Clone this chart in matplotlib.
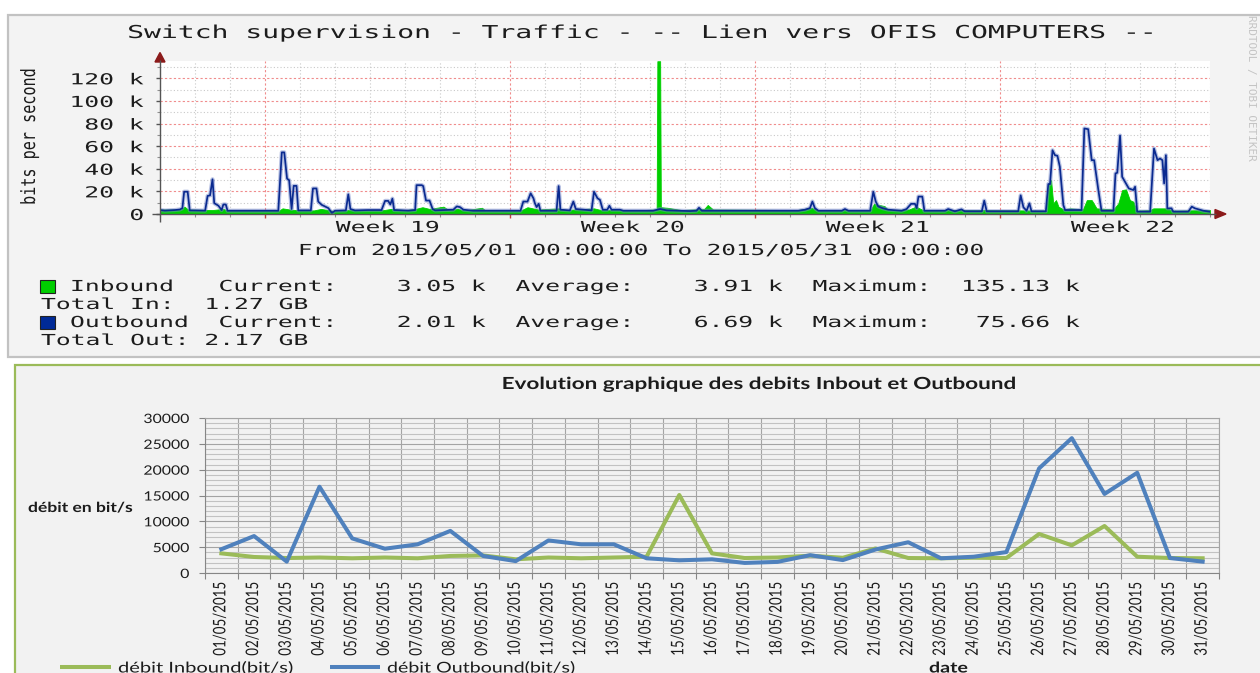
import numpy as np
import matplotlib
matplotlib.use("Agg")
import matplotlib.pyplot as plt
from matplotlib.patheffects import AbstractPathEffect
from matplotlib.transforms import Affine2D
from matplotlib.patches import Rectangle, Polygon
from matplotlib.ticker import FixedLocator, MultipleLocator

# ---------------------------------------------------------------- data
# RRD graph: time in days since 2015/05/01 00:00, values in kbit/s
rrd_title = "Switch supervision - Traffic - -- Lien vers OFIS COMPUTERS --"
outbound_trace = [
    (0.00, 3.5), (0.14, 3.0), (0.43, 3.5), (0.57, 4.0), (0.64, 5.2), (0.69, 19.7), (0.79, 19.7),
    (0.85, 3.2), (1.29, 3.0), (1.36, 16.0), (1.43, 16.5), (1.50, 30.7), (1.55, 9.6), (1.67, 7.3),
    (1.76, 3.5), (1.81, 8.4), (1.88, 8.4), (1.93, 2.9), (3.38, 2.9), (3.48, 54.5), (3.55, 54.5),
    (3.63, 31.3), (3.69, 29.9), (3.76, 4.4), (3.82, 24.9), (3.90, 24.9), (3.95, 3.2), (4.31, 3.2),
    (4.37, 22.6), (4.47, 22.6), (4.52, 11.0), (4.62, 8.1), (4.81, 5.2), (4.91, 1.0), (5.00, 2.9),
    (5.31, 3.2), (5.38, 17.4), (5.44, 4.4), (5.57, 3.2), (5.95, 3.5), (6.33, 3.5), (6.43, 11.6),
    (6.52, 11.6), (6.58, 8.4), (6.64, 13.6), (6.69, 3.5), (7.10, 3.0), (7.29, 3.5), (7.33, 25.5),
    (7.48, 25.5), (7.52, 24.7), (7.60, 11.9), (7.70, 11.9), (7.79, 4.4), (7.86, 3.2), (8.38, 3.8),
    (8.48, 6.7), (8.57, 6.1), (8.67, 3.8), (8.95, 2.9), (10.30, 2.9), (10.38, 11.0), (10.50, 11.0),
    (10.59, 18.3), (10.67, 13.9), (10.71, 9.6), (10.76, 6.1), (10.82, 9.0), (10.87, 2.9),
    (11.33, 2.9), (11.39, 24.7), (11.44, 3.8), (11.71, 3.2), (11.81, 11.0), (11.88, 4.4),
    (12.33, 3.2), (12.40, 19.7), (12.50, 13.9), (12.57, 12.5), (12.65, 3.8), (12.78, 3.8),
    (12.84, 7.3), (12.90, 3.8), (13.14, 3.8), (13.24, 2.9), (14.09, 2.9), (14.29, 4.4),
    (14.48, 3.2), (15.14, 2.6), (15.33, 2.9), (15.40, 5.5), (15.48, 2.9), (18.24, 2.9),
    (18.43, 3.8), (18.57, 5.2), (18.64, 11.0), (18.71, 5.2), (18.81, 2.9), (19.48, 2.9),
    (19.57, 4.4), (19.67, 2.9), (20.29, 2.9), (20.38, 19.7), (20.45, 11.0), (20.52, 6.7),
    (20.64, 5.2), (20.81, 3.8), (21.19, 2.9), (21.33, 4.4), (21.46, 9.0), (21.57, 9.0),
    (21.62, 5.2), (21.67, 15.4), (21.78, 15.4), (21.84, 2.9), (22.43, 2.9), (22.52, 4.4),
    (22.71, 2.4), (22.90, 4.1), (22.99, 2.4), (23.48, 2.4), (23.55, 11.8), (23.62, 2.4),
    (24.52, 2.4), (24.59, 16.5), (24.67, 5.9), (24.76, 2.9), (24.84, 9.4), (24.90, 2.4),
    (25.31, 2.4), (25.38, 26.5), (25.43, 26.5), (25.50, 56.4), (25.57, 52.0), (25.64, 51.5),
    (25.71, 41.7), (25.81, 7.9), (25.86, 3.5), (26.33, 3.5), (26.41, 75.66), (26.52, 75.0),
    (26.62, 47.6), (26.69, 47.6), (26.81, 21.2), (26.90, 2.9), (27.24, 2.9), (27.30, 35.9),
    (27.35, 36.5), (27.43, 69.4), (27.49, 32.9), (27.68, 22.6), (27.81, 21.2), (27.86, 24.1),
    (27.92, 2.1), (28.29, 2.1), (28.40, 57.9), (28.50, 47.6), (28.57, 49.1), (28.64, 47.6),
    (28.69, 27.0), (28.74, 52.0), (28.78, 5.0), (28.90, 5.0), (28.95, 2.1), (29.38, 2.1),
    (29.48, 6.5), (29.57, 5.0), (29.81, 2.9), (30.00, 2.0),
]
inbound_trace = [
    (0.00, 4.0), (0.60, 4.0), (0.70, 6.5), (0.80, 4.0), (1.50, 3.5), (1.80, 4.5), (1.95, 3.0),
    (3.40, 3.0), (3.50, 5.0), (3.70, 4.0), (4.00, 3.2), (4.40, 3.2), (4.60, 4.5), (5.00, 2.5),
    (5.40, 3.5), (6.40, 3.5), (6.60, 4.5), (7.00, 3.5), (7.30, 4.5), (7.50, 6.0), (7.70, 4.5),
    (8.10, 6.5), (8.25, 3.5), (8.50, 4.5), (8.70, 3.2), (9.20, 5.5), (9.30, 3.0), (10.30, 3.0),
    (10.50, 6.0), (10.80, 4.0), (11.40, 5.0), (11.60, 3.5), (12.40, 5.0), (12.60, 3.5),
    (13.80, 3.5), (14.19, 4.0), (14.21, 135.13), (14.29, 135.13), (14.31, 6.0), (14.50, 5.5),
    (14.90, 3.5), (15.55, 4.5), (15.65, 8.0), (15.80, 4.0), (18.20, 3.5), (18.60, 5.5),
    (18.80, 3.5), (20.30, 3.5), (20.40, 9.0), (20.70, 7.0), (20.80, 3.5), (21.40, 4.0),
    (21.60, 6.5), (21.80, 3.5), (23.50, 3.5), (25.33, 3.0), (25.39, 27.0), (25.46, 30.0),
    (25.52, 9.4), (25.60, 12.3), (25.67, 6.5), (25.81, 4.1), (26.00, 5.0), (26.37, 4.1),
    (26.48, 12.3), (26.62, 12.3), (26.76, 5.0), (27.24, 4.1), (27.38, 9.4), (27.49, 21.2),
    (27.60, 21.8), (27.71, 12.3), (27.81, 10.9), (27.90, 3.0), (28.29, 3.5), (28.38, 5.0),
    (28.76, 5.0), (28.95, 3.0), (30.00, 3.5),
]
rrd_ytick_vals = [0, 20, 40, 60, 80, 100, 120]
rrd_ytick_labels = ["0", "20 k", "40 k", "60 k", "80 k", "100 k", "120 k"]
week_bounds = [3, 10, 17, 24]
week_centers = [6.5, 13.5, 20.5, 27.5]
week_labels = ["Week 19", "Week 20", "Week 21", "Week 22"]
period_text = "From 2015/05/01 00:00:00 To 2015/05/31 00:00:00"
legend_in = "Inbound   Current:    3.05 k  Average:    3.91 k  Maximum:  135.13 k"
total_in = "Total In:  1.27 GB"
legend_out = "Outbound  Current:    2.01 k  Average:    6.69 k  Maximum:   75.66 k"
total_out = "Total Out: 2.17 GB"

# Excel chart: daily averages in bit/s
excel_title = "Evolution graphique des debits Inbout et Outbound"
dates = ["01/05/2015", "02/05/2015", "03/05/2015", "04/05/2015", "05/05/2015", "06/05/2015",
         "07/05/2015", "08/05/2015", "09/05/2015", "10/05/2015", "11/05/2015", "12/05/2015",
         "13/05/2015", "14/05/2015", "15/05/2015", "16/05/2015", "17/05/2015", "18/05/2015",
         "19/05/2015", "20/05/2015", "21/05/2015", "22/05/2015", "23/05/2015", "24/05/2015",
         "25/05/2015", "26/05/2015", "27/05/2015", "28/05/2015", "29/05/2015", "30/05/2015",
         "31/05/2015"]
inbound = [3800, 3100, 2900, 3000, 2850, 3000, 2850, 3300, 3400, 2650, 3000, 2850, 3000, 3150,
           15100, 3800, 2900, 3000, 3350, 2950, 4750, 2900, 2850, 2950, 2900, 7550, 5350, 9100,
           3150, 2900, 2850]
outbound = [4600, 7150, 2200, 16700, 6700, 4700, 5550, 8150, 3300, 2300, 6300, 5550, 5550, 2850,
            2450, 2650, 1950, 2150, 3450, 2500, 4550, 5950, 2850, 3150, 4050, 20250, 26100, 15300,
            19400, 2900, 2200]
excel_yticks = [0, 5000, 10000, 15000, 20000, 25000, 30000]
label_in = "débit Inbound(bit/s)"
label_out = "débit Outbound(bit/s)"


# ---------------------------------------------------------------- helpers
class Stretch(AbstractPathEffect):
    """Widen glyph outlines along the text direction (the screenshot is stretched)."""
    def __init__(self, sx=1.0, sy=1.0, anchor="left"):
        super().__init__()
        self.sx, self.sy, self.anchor = sx, sy, anchor

    def draw_path(self, renderer, gc, tpath, affine, rgbFace=None):
        ext = tpath.get_extents()
        if self.anchor == "right":
            x0 = ext.x1
        elif self.anchor == "center":
            x0 = 0.5 * (ext.x0 + ext.x1)
        else:
            x0 = 0.0
        t = Affine2D().translate(-x0, 0).scale(self.sx, self.sy).translate(x0, 0)
        renderer.draw_path(gc, tpath, t + affine, rgbFace)


W, H = 1260, 673
fig = plt.figure(figsize=(W / 100, H / 100), dpi=100)
fig.patch.set_facecolor("white")
R = fig.canvas.get_renderer()


def pax(x0, y0, x1, y1, **kw):
    return fig.add_axes([x0 / W, 1 - y1 / H, (x1 - x0) / W, (y1 - y0) / H], **kw)


def fit(t, target, anchor):
    w = t.get_window_extent(renderer=R).width
    s = target / w
    t.set_path_effects([Stretch(s, 1.0, anchor)])
    return s


MONO = "DejaVu Sans Mono"
SANS = "Lato"
fs_small, fs_title = 10.9, 12.8
ink = "#1c1c1c"

# background panels
bg = pax(0, 0, W, H, zorder=0)
bg.set_xlim(0, W)
bg.set_ylim(H, 0)
bg.axis("off")
bg.add_patch(Rectangle((8, 15), 1280, 342, facecolor="#f3f3f3", edgecolor="#c2c2c2", lw=1.6))
bg.add_patch(Rectangle((15, 365), 1280, 340, facecolor="#f2f2f2", edgecolor="#9bbb59", lw=1.6))

# overlay for decorations / free text (pixel coordinates)
ov = pax(0, 0, W, H, zorder=5)
ov.set_xlim(0, W)
ov.set_ylim(H, 0)
ov.axis("off")

# ---------------------------------------------------------------- RRD graph
ax1 = pax(160, 60.8, 1210, 214, zorder=1)
ax1.set_facecolor("white")
od, ovl = zip(*outbound_trace)
idd, ivl = zip(*inbound_trace)
ax1.fill_between(idd, ivl, 0, color="#00cf00", lw=0.6, edgecolor="#00cf00", zorder=3)
ax1.plot(od, ovl, color="#7386c8", lw=3.0, alpha=0.5, zorder=4)
ax1.plot(od, ovl, color="#0a2a90", lw=1.25, zorder=5)
ax1.set_xlim(0, 30)
ax1.set_ylim(0, 135.5)
for s in ax1.spines.values():
    s.set_visible(False)
ax1.xaxis.set_major_locator(FixedLocator(week_bounds))
ax1.xaxis.set_minor_locator(MultipleLocator(1))
ax1.set_yticks(rrd_ytick_vals, labels=rrd_ytick_labels)
ax1.yaxis.set_minor_locator(MultipleLocator(10))
ax1.set_axisbelow(True)
ax1.grid(which="minor", color="#c9c9c9", ls=(0, (1, 2)), lw=0.8)
ax1.grid(which="major", color="#f08c8c", ls=(0, (2, 2)), lw=0.8)
ax1.tick_params(axis="x", which="major", length=3, width=1, color="#c04040", labelbottom=False)
ax1.tick_params(axis="x", which="minor", length=2, width=0.8, color="#909090")
ax1.tick_params(axis="y", which="major", length=3, width=1, color="#555555", pad=8.8,
                labelsize=fs_small, labelcolor=ink, labelfontfamily=MONO)
ax1.tick_params(axis="y", which="minor", length=2, width=0.8, color="#909090")

# measure horizontal stretch of the RRD text from the legend line
t = ov.text(70, 291, legend_in, ha="left", va="baseline", family=MONO, fontsize=fs_small, color=ink)
sx_small = fit(t, 1011, "left")
t = ov.text(70, 327, legend_out, ha="left", va="baseline", family=MONO, fontsize=fs_small, color=ink)
t.set_path_effects([Stretch(sx_small, 1, "left")])
for y, s in [(309, total_in), (345, total_out)]:
    t = ov.text(41, y, s, ha="left", va="baseline", family=MONO, fontsize=fs_small, color=ink)
    t.set_path_effects([Stretch(sx_small, 1, "left")])
for lbl in ax1.get_yticklabels():
    lbl.set_path_effects([Stretch(sx_small, 1, "right")])
for c, s in zip(week_centers, week_labels):
    t = ax1.text(c, (214 - 232) / (214 - 60.8), s, transform=ax1.get_xaxis_transform(),
                 ha="center", va="baseline", family=MONO, fontsize=fs_small, color=ink)
    t.set_path_effects([Stretch(sx_small, 1, "center")])
t = ov.text(641.5, 255, period_text, ha="center", va="baseline", family=MONO, fontsize=fs_small, color=ink)
fit(t, 687, "center")
t = ov.text(639, 38, rrd_title, ha="center", va="baseline", family=MONO, fontsize=fs_title, color=ink)
fit(t, 1022, "center")
t = ov.text(35, 136.5, "bits per second", rotation=90, rotation_mode="anchor", ha="center",
            va="baseline", family=MONO, fontsize=fs_small, color=ink)
t.set_path_effects([Stretch(1.0, 1.3, "left")])
ov.text(1251, 88, "RRDTOOL / TOBI OETIKER", rotation=270, rotation_mode="anchor", ha="center",
        va="center", family=MONO, fontsize=7.9, color="#c4c4c4")

# legend squares
ov.add_patch(Rectangle((40, 280), 15, 13, facecolor="#00cf00", edgecolor="#222222", lw=0.8))
ov.add_patch(Rectangle((40, 316), 15, 13, facecolor="#002a97", edgecolor="#222222", lw=0.8))

# axes lines + arrows
ov.plot([152, 1216], [214, 214], color="#555555", lw=1.0, solid_capstyle="butt")
ov.plot([160, 160], [222, 60], color="#555555", lw=1.0, solid_capstyle="butt")
ov.add_patch(Polygon([(155, 62), (165, 62), (160, 52.5)], closed=True, color="#8b1a1a"))
ov.add_patch(Polygon([(1215, 209.5), (1215, 218.5), (1226, 214)], closed=True, color="#8b1a1a"))

# ---------------------------------------------------------------- Excel chart
ax2 = pax(205, 418, 1219, 573, zorder=1)
ax2.set_facecolor("#f2f2f2")
xs = np.arange(len(dates))
ax2.plot(xs, inbound, color="#9bbb59", lw=2.9, zorder=3)
ax2.plot(xs, outbound, color="#4f81bd", lw=2.9, zorder=4)
ax2.set_xlim(-0.5, len(dates) - 0.5)
ax2.set_ylim(0, 30000)
ax2.set_xticks(xs, labels=dates)
ax2.xaxis.set_minor_locator(FixedLocator(np.arange(len(dates) + 1) - 0.5))
ax2.set_yticks(excel_yticks, labels=[str(v) for v in excel_yticks])
ax2.yaxis.set_minor_locator(MultipleLocator(1000))
ax2.set_axisbelow(True)
ax2.grid(which="minor", axis="y", color="#c2c2c2", lw=0.8)
ax2.grid(which="major", axis="y", color="#a4a4a4", lw=0.8)
ax2.grid(which="minor", axis="x", color="#a4a4a4", lw=0.8)
ax2.tick_params(axis="x", which="major", length=0, pad=6.3, labelsize=9.6, labelrotation=90,
                labelcolor=ink, labelfontfamily=SANS)
ax2.tick_params(axis="x", which="minor", length=4.5, width=0.8, color="#868686")
ax2.tick_params(axis="y", which="major", length=4.3, width=0.8, color="#868686", pad=7,
                labelsize=9.3, labelcolor=ink, labelfontfamily=SANS)
ax2.tick_params(axis="y", which="minor", length=0)
for side in ["left", "bottom"]:
    ax2.spines[side].set_color("#868686")
    ax2.spines[side].set_linewidth(0.8)
for side in ["right", "top"]:
    ax2.spines[side].set_color("#a4a4a4")
    ax2.spines[side].set_linewidth(0.8)

tmp = ov.text(0, 0, "30000", family=SANS, fontsize=9.3)
sx_tick = 46 / tmp.get_window_extent(renderer=R).width
tmp.remove()
for lbl in ax2.get_yticklabels():
    lbl.set_path_effects([Stretch(sx_tick, 1, "right")])
for lbl in ax2.get_xticklabels():
    lbl.set_path_effects([Stretch(1.0, 1.3, "left")])

yl = ax2.set_ylabel("débit en bit/s", rotation=0, ha="left", va="baseline", family=SANS,
                    fontweight="bold", fontsize=10, color=ink)
ax2.yaxis.set_label_coords((28 - 205) / 1014, (573 - 512) / 155)
fit(yl, 105, "left")
xl = ax2.set_xlabel("date", ha="center", va="baseline", family=SANS, fontweight="bold",
                    fontsize=10.7, color=ink)
ax2.xaxis.set_label_coords((948.5 - 205) / 1014, (573 - 672.5) / 155)
fit(xl, 39, "center")
t = ov.text(758, 389, excel_title, ha="center", va="baseline", family=SANS, fontweight="bold",
            fontsize=12, color=ink)
fit(t, 512, "center")

# legend (bottom, partly cut by the screenshot edge)
ov.plot([60, 111], [667, 667], color="#9bbb59", lw=2.9, solid_capstyle="butt")
t = ov.text(118, 672.5, label_in, ha="left", va="baseline", family=SANS, fontsize=10.7, color=ink)
fit(t, 175, "left")
ov.plot([330, 380], [667, 667], color="#4f81bd", lw=2.9, solid_capstyle="butt")
t = ov.text(387, 672.5, label_out, ha="left", va="baseline", family=SANS, fontsize=10.7, color=ink)
fit(t, 188, "left")

fig.savefig("out.png", dpi=100)
